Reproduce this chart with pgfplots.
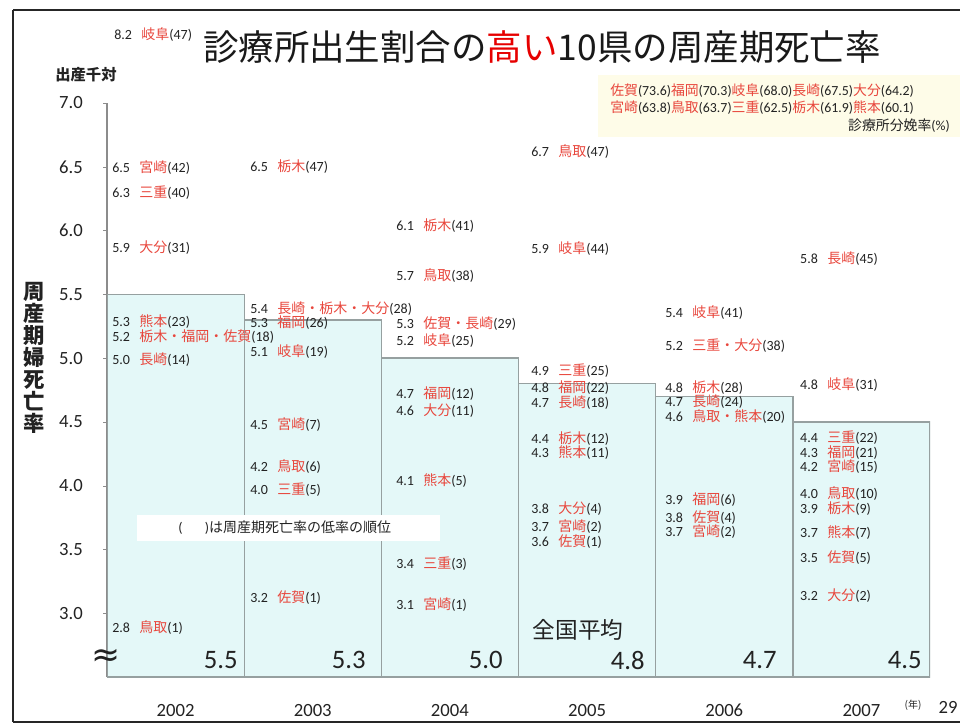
\documentclass[border=0pt]{standalone}
\usepackage{fontspec}
\usepackage{xcolor}
\usepackage{pgfplots}
\pgfplotsset{compat=1.18}
\setmainfont{Carlito}
\newfontfamily\cjk{Noto Sans CJK JP}
\newfontfamily\dejavu{DejaVu Sans}
\definecolor{barcyan}{RGB}{228,248,248}
\definecolor{bargray}{RGB}{150,160,160}
\definecolor{labred}{RGB}{232,70,60}
\definecolor{titlered}{RGB}{230,0,0}
\definecolor{legendbg}{RGB}{254,252,232}
\definecolor{axisgray}{RGB}{140,140,140}
\definecolor{txt}{RGB}{34,34,34}
\DeclareRobustCommand\lab[3]{#1\hspace{7pt}{\cjk\color{labred}#2}(#3)}
\newcommand\lgd[2]{{\cjk\color{labred}#1}(#2)}
\pgfplotsset{lbl/.style={draw=none, mark=none, point meta=explicit symbolic,
  nodes near coords={\pgfplotspointmeta},
  nodes near coords style={anchor=west, inner sep=0pt, text=txt, font=\fontsize{10.5}{12}\selectfont}}}
\begin{document}
\begin{tikzpicture}
\path[use as bounding box] (0,0) rectangle (720pt,543.75pt);
\begin{scope}[x=0.75pt,y=-0.75pt,shift={(0pt,543.75pt)}]
\fill[legendbg] (598,75) rectangle (965,137);
\end{scope}
\begin{axis}[
  at={(80.25pt,36pt)}, anchor=south west,
  scale only axis, width=617.25pt, height=430.5pt,
  xmin=-0.5, xmax=5.5, ymin=2.5, ymax=7.0,
  axis x line=bottom, axis y line=left,
  axis line style={-, draw=axisgray, line width=0.9pt},
  xtick={0,1,2,3,4,5},
  xticklabels={2002,2003,2004,2005,2006,2007},
  xtick style={draw=none},
  xticklabel style={anchor=center, yshift=-22pt, text=txt, font=\fontsize{14}{16}\selectfont},
  ytick={3,3.5,4,4.5,5,5.5,6,6.5,7},
  ytick style={draw=axisgray},
  tick align=outside, major tick length=3pt,
  yticklabel style={anchor=east, inner sep=0pt, xshift=-15pt, text=txt, font=\fontsize{14}{16}\selectfont,
    /pgf/number format/.cd, fixed, fixed zerofill, precision=1, /tikz/.cd},
  /pgf/number format/assume math mode=true,
]
\addplot[ybar, bar width=1, fill=barcyan, draw=bargray, line width=1pt] coordinates {
  (0,5.5) (1,5.3) (2,5.0) (3,4.8) (4,4.7) (5,4.5)};
% national average values at the bottom of each bar
\addplot[draw=none, mark=none, point meta=explicit symbolic,
  nodes near coords={\pgfplotspointmeta},
  nodes near coords style={anchor=east, inner sep=0pt, text=txt, font=\fontsize{20}{24}\selectfont}] coordinates {
  (0.455,2.633) [5.5] (1.388,2.633) [5.3] (2.387,2.633) [5.0]
  (3.422,2.633) [4.8] (4.384,2.633) [4.7] (5.441,2.633) [4.5]};
% 2002 (8.2 岐阜 is outside the range, set above the plot)
\addplot[lbl] coordinates {
  (-0.4635,6.49) [\lab{6.5}{宮崎}{42}]
  (-0.4635,6.30) [\lab{6.3}{三重}{40}]
  (-0.4635,5.87) [\lab{5.9}{大分}{31}]
  (-0.4635,5.29) [\lab{5.3}{熊本}{23}]
  (-0.4635,5.17) [\lab{5.2}{栃木・福岡・佐賀}{18}]
  (-0.4635,4.985) [\lab{5.0}{長崎}{14}]
  (-0.4635,2.89) [\lab{2.8}{鳥取}{1}]
};
% 2003
\addplot[lbl] coordinates {
  (0.5425,6.50) [\lab{6.5}{栃木}{47}]
  (0.5425,5.39) [\lab{5.4}{長崎・栃木・大分}{28}]
  (0.5425,5.28) [\lab{5.3}{福岡}{26}]
  (0.5425,5.05) [\lab{5.1}{岐阜}{19}]
  (0.5425,4.48) [\lab{4.5}{宮崎}{7}]
  (0.5425,4.15) [\lab{4.2}{鳥取}{6}]
  (0.5425,3.97) [\lab{4.0}{三重}{5}]
  (0.5425,3.12) [\lab{3.2}{佐賀}{1}]
};
% 2004
\addplot[lbl] coordinates {
  (1.607,6.04) [\lab{6.1}{栃木}{41}]
  (1.607,5.65) [\lab{5.7}{鳥取}{38}]
  (1.607,5.27) [\lab{5.3}{佐賀・長崎}{29}]
  (1.607,5.14) [\lab{5.2}{岐阜}{25}]
  (1.607,4.72) [\lab{4.7}{福岡}{12}]
  (1.607,4.59) [\lab{4.6}{大分}{11}]
  (1.607,4.04) [\lab{4.1}{熊本}{5}]
  (1.607,3.39) [\lab{3.4}{三重}{3}]
  (1.607,3.07) [\lab{3.1}{宮崎}{1}]
};
% 2005
\addplot[lbl] coordinates {
  (2.591,6.62) [\lab{6.7}{鳥取}{47}]
  (2.591,5.86) [\lab{5.9}{岐阜}{44}]
  (2.591,4.90) [\lab{4.9}{三重}{25}]
  (2.591,4.77) [\lab{4.8}{福岡}{22}]
  (2.591,4.65) [\lab{4.7}{長崎}{18}]
  (2.591,4.37) [\lab{4.4}{栃木}{12}]
  (2.591,4.26) [\lab{4.3}{熊本}{11}]
  (2.591,3.82) [\lab{3.8}{大分}{4}]
  (2.591,3.68) [\lab{3.7}{宮崎}{2}]
  (2.591,3.56) [\lab{3.6}{佐賀}{1}]
};
% 2006
\addplot[lbl] coordinates {
  (3.568,5.36) [\lab{5.4}{岐阜}{41}]
  (3.568,5.10) [\lab{5.2}{三重・大分}{38}]
  (3.568,4.77) [\lab{4.8}{栃木}{28}]
  (3.568,4.66) [\lab{4.7}{長崎}{24}]
  (3.568,4.54) [\lab{4.6}{鳥取・熊本}{20}]
  (3.568,3.89) [\lab{3.9}{福岡}{6}]
  (3.568,3.75) [\lab{3.8}{佐賀}{4}]
  (3.568,3.64) [\lab{3.7}{宮崎}{2}]
};
% 2007
\addplot[lbl] coordinates {
  (4.552,5.78) [\lab{5.8}{長崎}{45}]
  (4.552,4.79) [\lab{4.8}{岐阜}{31}]
  (4.552,4.38) [\lab{4.4}{三重}{22}]
  (4.552,4.26) [\lab{4.3}{福岡}{21}]
  (4.552,4.15) [\lab{4.2}{宮崎}{15}]
  (4.552,3.94) [\lab{4.0}{鳥取}{10}]
  (4.552,3.82) [\lab{3.9}{栃木}{9}]
  (4.552,3.63) [\lab{3.7}{熊本}{7}]
  (4.552,3.44) [\lab{3.5}{佐賀}{5}]
  (4.552,3.14) [\lab{3.2}{大分}{2}]
};
\end{axis}
\begin{scope}[x=0.75pt,y=-0.75pt,shift={(0pt,543.75pt)}]
% slide frame
\draw[line width=2pt, black!85] (13,10) -- (965,10);
\draw[line width=2pt, black!85] (13,10) -- (13,722);
\draw[line width=1.5pt, black!85] (13,722) -- (965,722);
% out-of-range value 2002
\node[anchor=west, inner sep=0pt, text=txt, font=\fontsize{10.5}{12}\selectfont] at (114,35) {\lab{8.2}{岐阜}{47}};
% title
\node[font=\fontsize{26.6}{30}\selectfont\cjk, text=black!90] at (542,47)
  {診療所出生割合の\textcolor{titlered}{高い}10県の周産期死亡率};
% unit
\node[font=\fontsize{11.5}{13}\selectfont\cjk\bfseries, text=txt] at (86,75) {出産千対};
% y label
\node[font=\fontsize{16}{16.5}\selectfont\cjk\bfseries, text=txt, align=center, inner sep=0pt] at (34,358)
  {周\\産\\期\\婦\\死\\亡\\率};
% legend box text
\node[anchor=west, inner sep=0pt, text=txt, font=\fontsize{10.4}{12}\selectfont] at (610,91)
  {\lgd{佐賀}{73.6}\lgd{福岡}{70.3}\lgd{岐阜}{68.0}\lgd{長崎}{67.5}\lgd{大分}{64.2}};
\node[anchor=west, inner sep=0pt, text=txt, font=\fontsize{10.4}{12}\selectfont] at (610,108)
  {\lgd{宮崎}{63.8}\lgd{鳥取}{63.7}\lgd{三重}{62.5}\lgd{栃木}{61.9}\lgd{熊本}{60.1}};
\node[anchor=east, inner sep=0pt, text=txt, font=\fontsize{10.4}{12}\selectfont] at (950,126)
  {{\cjk 診療所分娩率}(\%)};
% note box
\fill[white] (137,515) rectangle (440,541);
\node[anchor=west, inner sep=0pt, text=txt, font=\fontsize{10.5}{12}\selectfont] at (178,528)
  {(\hspace{1.6em}){\cjk は周産期死亡率の低率の順位}};
% national average label
\node[font=\fontsize{17}{20}\selectfont\cjk, text=txt] at (578,630) {全国平均};
% axis break
\node[font=\fontsize{26}{28}\selectfont\dejavu, text=txt, inner sep=0pt] at (106,658) {≈};
% year unit and page number
\node[font=\fontsize{7.5}{9}\selectfont\cjk, text=txt] at (913,705) {(年)};
\node[font=\fontsize{14}{16}\selectfont, text=txt] at (948,707) {29};
\end{scope}
\end{tikzpicture}
\end{document}
